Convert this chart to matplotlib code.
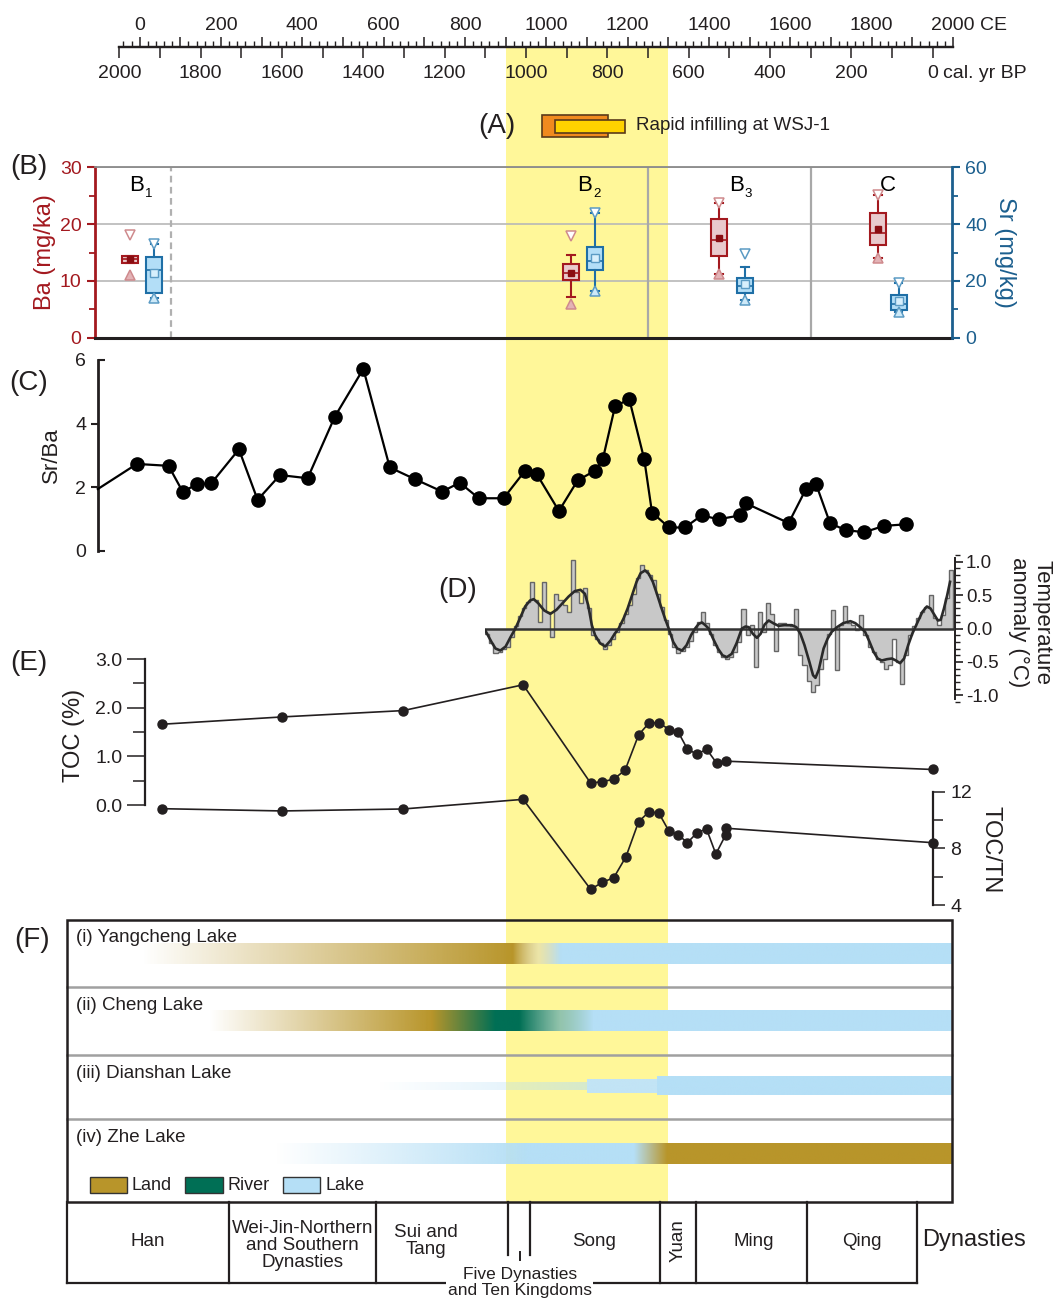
import numpy as np
import matplotlib
matplotlib.use('Agg')
import matplotlib.pyplot as plt
from matplotlib.patches import Rectangle
from matplotlib.ticker import MultipleLocator, FixedLocator, FormatStrFormatter
from matplotlib.colors import to_rgb

plt.rcParams['font.family'] = ['Liberation Sans', 'DejaVu Sans']
plt.rcParams['axes.unicode_minus'] = False

# ======================= DATA =======================
yellow_band = [900, 1300]                 # CE
infill_orange = [990, 1152]               # CE
infill_yellow = [1022, 1194]              # CE
ce_labels = [0, 200, 400, 600, 800, 1000, 1200, 1400, 1600, 1800, 2000]
bp_labels = [2000, 1800, 1600, 1400, 1200, 1000, 800, 600, 400, 200, 0]

# (B) box plots
zone_letters = ['B', 'B', 'B', 'C']
zone_subs = ['1', '2', '3', '']
zone_label_x = [-7, 1095, 1467, 1840]
zone_bounds = [76, 1251, 1651]
ba_pos = [-24, 1061, 1425, 1816]
ba_q1 = [13.2, 10.1, 14.3, 16.3]
ba_med = [13.8, 11.4, 17.2, 18.5]
ba_q3 = [14.4, 12.9, 20.9, 22.0]
ba_whislo = [13.2, 7.2, 11.2, 14.1]
ba_whishi = [14.4, 14.5, 23.8, 25.1]
ba_mean = [13.9, 11.45, 17.5, 19.2]
ba_min = [11.0, 5.85, 11.2, 14.1]
ba_max = [18.1, 17.9, 23.8, 25.1]
sr_pos = [36, 1120, 1489, 1867]
sr_q1 = [15.9, 23.8, 15.7, 9.6]
sr_med = [23.8, 27.0, 18.2, 11.8]
sr_q3 = [28.5, 31.9, 20.9, 15.2]
sr_whislo = [13.9, 16.5, 13.3, 8.9]
sr_whishi = [32.9, 43.9, 24.9, 19.4]
sr_mean = [22.7, 28.2, 19.0, 13.0]
sr_min = [13.9, 16.5, 13.3, 8.9]
sr_max = [32.9, 43.9, 29.3, 19.4]

# (C) Sr/Ba
srba_year = [-103, -7, 71, 106, 140, 176, 244, 290, 345, 413, 480, 550, 615, 677,
             744, 787, 834, 895, 948, 976, 1031, 1077, 1120, 1139, 1169, 1204,
             1241, 1260, 1302, 1341, 1382, 1424, 1476, 1491, 1596, 1639, 1663,
             1698, 1736, 1782, 1830, 1884]
srba = [1.94, 2.73, 2.67, 1.85, 2.09, 2.12, 3.19, 1.6, 2.38, 2.28, 4.22, 5.72, 2.62,
        2.25, 1.86, 2.14, 1.65, 1.65, 2.52, 2.42, 1.25, 2.21, 2.52, 2.88, 4.54,
        4.77, 2.87, 1.2, 0.73, 0.73, 1.11, 0.99, 1.11, 1.49, 0.87, 1.95, 2.11,
        0.86, 0.65, 0.58, 0.78, 0.83]

# (D) temperature anomaly (decadal, start year of decade)
temp_year = list(range(850, 2000, 10))
temp_anom = [-0.08, -0.22, -0.37, -0.35, -0.30, -0.27, -0.12, 0.03, 0.18, 0.30,
             0.40, 0.69, 0.42, 0.10, 0.69, 0.25, -0.12, 0.52, 0.42, 0.35,
             0.25, 1.03, 0.55, 0.38, 0.60, 0.30, -0.10, -0.15, -0.22, -0.30,
             -0.25, -0.15, -0.05, 0.08, 0.22, 0.35, 0.52, 0.75, 0.95, 0.88,
             0.80, 0.72, 0.52, 0.32, 0.12, -0.08, -0.28, -0.37, -0.33, -0.28,
             -0.18, -0.05, 0.10, 0.25, 0.08, -0.08, -0.25, -0.35, -0.42, -0.46,
             -0.42, -0.35, -0.20, 0.29, -0.10, 0.05, -0.58, 0.25, -0.05, 0.38,
             0.22, -0.33, 0.08, 0.08, 0.05, 0.03, 0.29, -0.40, -0.55, -0.78,
             -0.95, -0.85, -0.60, -0.45, -0.08, 0.28, -0.62, 0.05, 0.33, 0.08,
             0.05, -0.02, 0.20, -0.10, -0.28, -0.35, -0.45, -0.50, -0.60, -0.55,
             -0.15, -0.50, -0.83, -0.40, -0.10, 0.03, 0.15, 0.25, 0.32, 0.50,
             0.15, 0.05, 0.20, 0.45, 0.88]
smooth_year = [850, 865, 875, 887, 900, 912, 924, 935, 948, 960, 969, 980, 995, 1010,
               1025, 1040, 1055, 1070, 1084, 1095, 1103, 1112, 1120, 1132, 1145,
               1158, 1168, 1178, 1190, 1200, 1211, 1222, 1232, 1243, 1252, 1262,
               1272, 1282, 1292, 1301, 1312, 1322, 1334, 1345, 1356, 1366, 1375,
               1383, 1391, 1399, 1410, 1422, 1433, 1444, 1456, 1468, 1481, 1490,
               1498, 1508, 1518, 1527, 1537, 1547, 1558, 1571, 1585, 1604, 1615,
               1625, 1635, 1647, 1656, 1662, 1670, 1682, 1692, 1702, 1715, 1730,
               1748, 1760, 1772, 1784, 1795, 1805, 1815, 1825, 1838, 1850, 1860,
               1870, 1880, 1890, 1900, 1906, 1915, 1925, 1936, 1945, 1955, 1963,
               1970, 1978, 1986, 1993]
smooth_anom = [-0.03, -0.20, -0.30, -0.33, -0.27, -0.13, 0.00, 0.15, 0.33, 0.42,
               0.44, 0.38, 0.27, 0.22, 0.28, 0.38, 0.48, 0.56, 0.58, 0.52, 0.35,
               0.05, -0.10, -0.22, -0.27, -0.18, -0.08, 0.00, 0.15, 0.30, 0.50,
               0.70, 0.83, 0.87, 0.82, 0.70, 0.52, 0.33, 0.15, 0.00, -0.20, -0.30,
               -0.33, -0.25, -0.10, 0.00, 0.07, 0.09, 0.05, 0.00, -0.15, -0.30,
               -0.40, -0.43, -0.38, -0.22, 0.00, 0.03, 0.02, -0.08, -0.14, -0.08,
               0.06, 0.12, 0.08, 0.04, 0.05, 0.05, 0.02, -0.08, -0.25, -0.50, -0.70,
               -0.74, -0.62, -0.30, -0.15, -0.05, 0.02, 0.08, 0.11, 0.08, 0.02,
               -0.05, -0.20, -0.35, -0.45, -0.48, -0.46, -0.45, -0.48, -0.52, -0.45,
               -0.25, -0.08, 0.00, 0.12, 0.25, 0.33, 0.30, 0.20, 0.12, 0.13, 0.30,
               0.50, 0.70]

# (E) TOC and TOC/TN
toc_year = [56, 351, 648, 943, 1109, 1138, 1166, 1194, 1227, 1253, 1277, 1302,
            1325, 1347, 1371, 1394, 1419, 1443, 1950]
toc = [1.66, 1.81, 1.94, 2.47, 0.45, 0.48, 0.53, 0.72, 1.44, 1.69, 1.69, 1.55,
       1.49, 1.15, 1.04, 1.15, 0.86, 0.90, 0.73]
tn_year = [56, 351, 648, 943, 1109, 1138, 1166, 1196, 1227, 1253, 1277, 1301,
           1325, 1347, 1371, 1394, 1417, 1441, 1442, 1950]
toc_tn = [10.8, 10.64, 10.78, 11.46, 5.11, 5.6, 5.93, 7.41, 9.88, 10.59, 10.48,
          9.25, 8.94, 8.4, 9.11, 9.37, 7.6, 8.94, 9.42, 8.4]

# (F) palaeo-environment rows: (CE, state, opacity)
lake_rows = ['(i) Yangcheng Lake', '(ii) Cheng Lake', '(iii) Dianshan Lake', '(iv) Zhe Lake']
yangcheng_stops = [(5, 'land', 0.0), (916, 'land', 1.0), (980, 'pale', 0.5),
                   (1034, 'lake', 1.0), (1998, 'lake', 1.0)]
cheng_stops = [(171, 'land', 0.0), (718, 'land', 1.0), (875, 'river', 1.0),
               (934, 'river', 1.0), (1035, 'mixrl', 0.75), (1116, 'lake', 1.0),
               (1998, 'lake', 1.0)]
dianshan_thin = [(585, 'lake', 0.0), (1099, 'lake', 0.55)]
dianshan_mid = [(1099, 'lake2', 1.0), (1273, 'lake2', 1.0)]
dianshan_full = [(1273, 'lake', 1.0), (1998, 'lake', 1.0)]
zhe_stops = [(336, 'lake', 0.0), (950, 'lake', 1.0), (1216, 'lake', 1.0),
             (1298, 'land', 1.0), (1998, 'land', 1.0)]
legend_names = ['Land', 'River', 'Lake']

# Dynasties
dynasty_names = ['Han', 'Wei-Jin-Northern\nand Southern\nDynasties', 'Sui and\nTang',
                 'Five Dynasties\nand Ten Kingdoms', 'Song', 'Yuan', 'Ming', 'Qing']
dynasty_ends = [220, 581, 907, 960, 1279, 1368, 1640, 1911]
dynasty_label_x = [21, 400, 704, 935, 1117, 1323, 1511, 1775]

# ======================= STYLE / LAYOUT =======================
W, H = 1057, 1303
PX0, PXY = 139.7, 0.4066
TXT = '#231f20'
RED = '#a3191f'
RED_FILL = '#e9cacd'
BLUE = '#1c5f8e'
BLUE_EDGE = '#1f6fa6'
BLUE_FILL = '#b3def7'
YEL = '#fff799'
COL = {'land': '#b8952a', 'river': '#006f55', 'lake': '#b5dff6', 'lake2': '#c2e4f5',
       'pale': '#d9d3b8', 'mixrl': '#6fb3b3'}


def ce(px):
    return (px - PX0) / PXY


fig = plt.figure(figsize=(W / 100, H / 100), dpi=100)
fig.patch.set_facecolor('white')


def add_ax(x0, x1, y0, y1, z=2):
    ax = fig.add_axes([x0 / W, 1 - y1 / H, (x1 - x0) / W, (y1 - y0) / H])
    ax.set_xlim(ce(x0), ce(x1))
    ax.patch.set_alpha(0)
    ax.set_zorder(z)
    return ax


def lim_from(y0, y1, ya, va, yb, vb):
    s = (vb - va) / (yb - ya)
    return va + (y1 - ya) * s, va + (y0 - ya) * s


# background axes: x = CE years, y = pixels
bg = fig.add_axes([0, 0, 1, 1])
bg.set_zorder(0)
bg.axis('off')

bg.add_patch(Rectangle((yellow_band[0], 48), yellow_band[1] - yellow_band[0],
                       1202.3 - 48, color=YEL, lw=0, zorder=0))

# ---------------- time axis ----------------
ax_ce = add_ax(119.0, 953.3, 47, 60, z=3)
for s in ['left', 'right', 'bottom']:
    ax_ce.spines[s].set_visible(False)
ax_ce.spines['top'].set_linewidth(1.6)
ax_ce.spines['top'].set_color(TXT)
ax_ce.set_yticks([])
ax_ce.xaxis.set_ticks_position('top')
ax_ce.xaxis.set_major_locator(MultipleLocator(100))
ax_ce.xaxis.set_minor_locator(MultipleLocator(20))
ax_ce.tick_params(axis='x', which='major', direction='out', length=7, width=1.1,
                  color=TXT, labeltop=False, labelbottom=False)
ax_ce.tick_params(axis='x', which='minor', direction='out', length=4, width=1.0,
                  color=TXT)

ax_bp = add_ax(119.0, 953.3, 34, 47, z=3)
ax_bp.set_xlim(1950 - ce(119.0), 1950 - ce(953.3))
for s in ['left', 'right', 'top']:
    ax_bp.spines[s].set_visible(False)
ax_bp.spines['bottom'].set_linewidth(1.6)
ax_bp.spines['bottom'].set_color(TXT)
ax_bp.set_yticks([])
ax_bp.xaxis.set_major_locator(MultipleLocator(100))
ax_bp.tick_params(axis='x', which='major', direction='out', length=8, width=1.1,
                  color=TXT, labelbottom=False)

for v in ce_labels:
    bg.text(v, 25, str(v), ha='center', va='center', fontsize=14, color=TXT)
bg.text(ce(980), 25, 'CE', ha='left', va='center', fontsize=14, color=TXT)
for v in bp_labels:
    bg.text(1950 - v, 74, str(v), ha='center', va='center', fontsize=14, color=TXT)
bg.text(ce(943), 74, 'cal. yr BP', ha='left', va='center', fontsize=14, color=TXT)

# ---------------- (A) ----------------
bg.add_patch(Rectangle((infill_orange[0], 115), infill_orange[1] - infill_orange[0], 22,
                       fc='#f08a1e', ec='#5a3a1a', lw=1.2, zorder=3))
bg.add_patch(Rectangle((infill_yellow[0], 120), infill_yellow[1] - infill_yellow[0], 13,
                       fc='#ffd200', ec='#5a3a1a', lw=1.2, zorder=4))
bg.text(ce(636), 126, 'Rapid infilling at WSJ-1', ha='left', va='center',
        fontsize=13.5, color=TXT)

# panel letters
for lab, x, y in [('(A)', 497, 126), ('(B)', 29, 167), ('(C)', 29, 383),
                  ('(D)', 458, 590), ('(E)', 29, 663), ('(F)', 32, 940)]:
    bg.text(ce(x), y, lab, ha='center', va='center', fontsize=20, color=TXT)

# ---------------- (B) ----------------
ax_b = add_ax(94.7, 951.9, 167.3, 337.7, z=3)
ax_b.set_ylim(0, 30)
ax_sr = ax_b.twinx()
ax_sr.set_zorder(4)
ax_sr.patch.set_alpha(0)
ax_sr.set_ylim(0, 60)

ax_b.yaxis.set_major_locator(MultipleLocator(10))
ax_b.yaxis.set_minor_locator(MultipleLocator(5))
ax_b.yaxis.grid(True, which='major', color='#b8b8b8', lw=1.2)
ax_b.set_axisbelow(True)
ax_b.set_xticks([])
ax_sr.set_xticks([])
for i, xb in enumerate(zone_bounds):
    if i == 0:
        ax_b.axvline(xb, color='#b0b0b0', lw=1.6, ls=(0, (3, 2)), zorder=1)
    else:
        ax_b.axvline(xb, color='#a8a8a8', lw=1.6, zorder=1)

ba_stats = [dict(q1=a, med=b, q3=c, whislo=d, whishi=e, mean=f, fliers=[])
            for a, b, c, d, e, f in zip(ba_q1, ba_med, ba_q3, ba_whislo, ba_whishi, ba_mean)]
sr_stats = [dict(q1=a, med=b, q3=c, whislo=d, whishi=e, mean=f, fliers=[])
            for a, b, c, d, e, f in zip(sr_q1, sr_med, sr_q3, sr_whislo, sr_whishi, sr_mean)]
ax_b.bxp(ba_stats, positions=ba_pos, widths=40, patch_artist=True, showmeans=True,
         showfliers=False, manage_ticks=False,
         boxprops=dict(facecolor=RED_FILL, edgecolor=RED, linewidth=1.5),
         medianprops=dict(color=RED, linewidth=1.2),
         whiskerprops=dict(color=RED, linewidth=1.5),
         capprops=dict(color=RED, linewidth=1.5),
         meanprops=dict(marker='s', markerfacecolor='#8a0d12', markeredgecolor='#8a0d12',
                        markersize=5), capwidths=18)
ax_sr.bxp(sr_stats, positions=sr_pos, widths=40, patch_artist=True, showmeans=True,
          showfliers=False, manage_ticks=False,
          boxprops=dict(facecolor=BLUE_FILL, edgecolor=BLUE_EDGE, linewidth=1.5),
          medianprops=dict(color=BLUE_EDGE, linewidth=1.2),
          whiskerprops=dict(color=BLUE_EDGE, linewidth=1.5),
          capprops=dict(color=BLUE_EDGE, linewidth=1.5),
          meanprops=dict(marker='s', markerfacecolor='#d7effc', markeredgecolor='#5b9bc4',
                         markersize=6), capwidths=18)
ax_b.plot(ba_pos, ba_max, 'v', ms=7, mfc='white', mec='#cf8a8d', mew=1.1, ls='none', zorder=5)
ax_b.plot(ba_pos, ba_min, '^', ms=7, mfc='#e3b3b6', mec='#cf8a8d', mew=1.1, ls='none', zorder=5)
ax_sr.plot(sr_pos, sr_max, 'v', ms=7, mfc='white', mec='#5b9bc4', mew=1.1, ls='none', zorder=5)
ax_sr.plot(sr_pos, sr_min, '^', ms=7, mfc='#cde9f8', mec='#5b9bc4', mew=1.1, ls='none', zorder=5)

xt = ax_b.get_xaxis_transform()
for let, sub, x in zip(zone_letters, zone_subs, zone_label_x):
    ax_b.text(x, 0.895, let, transform=xt, ha='center', va='center', fontsize=16,
              color='black')
    if sub:
        ax_b.annotate(sub, xy=(x, 0.895), xycoords=xt, xytext=(8.5, -6.5),
                      textcoords='offset points', ha='center', va='center',
                      fontsize=9.5, color='black')

ax_b.spines['left'].set_color(RED)
ax_b.spines['left'].set_linewidth(2)
ax_b.spines['right'].set_visible(False)
ax_b.spines['top'].set_color('#8a8a8a')
ax_b.spines['top'].set_linewidth(1.3)
ax_b.spines['bottom'].set_color(TXT)
ax_b.spines['bottom'].set_linewidth(2.2)
for s in ['left', 'top', 'bottom']:
    ax_sr.spines[s].set_visible(False)
ax_sr.spines['right'].set_color(BLUE)
ax_sr.spines['right'].set_linewidth(2)
ax_b.tick_params(axis='y', which='major', colors=RED, length=6, width=1.5, labelsize=14)
ax_b.tick_params(axis='y', which='minor', colors=RED, length=4, width=1.3)
ax_sr.yaxis.set_major_locator(MultipleLocator(20))
ax_sr.yaxis.set_minor_locator(MultipleLocator(10))
ax_sr.tick_params(axis='y', which='major', colors=BLUE, length=6, width=1.5, labelsize=14)
ax_sr.tick_params(axis='y', which='minor', colors=BLUE, length=4, width=1.3)
ax_b.set_ylabel('Ba (mg/ka)', color=RED, fontsize=17, va='center')
ax_b.yaxis.set_label_coords(-0.058, 0.5)
ax_sr.set_ylabel('Sr (mg/kg)', color=BLUE, fontsize=17, rotation=-90, va='center')
ax_sr.yaxis.set_label_coords(1.062, 0.5)

# ---------------- (C) ----------------
ax_c = add_ax(98, 953, 360, 550.7, z=3)
ax_c.set_ylim(0, 6)
for s in ['top', 'right', 'bottom']:
    ax_c.spines[s].set_visible(False)
ax_c.spines['left'].set_linewidth(2)
ax_c.spines['left'].set_color(TXT)
ax_c.set_xticks([])
ax_c.yaxis.set_major_locator(FixedLocator([2, 4]))
ax_c.yaxis.set_minor_locator(FixedLocator([0, 6]))
ax_c.yaxis.set_major_formatter(FormatStrFormatter('%d'))
ax_c.yaxis.set_minor_formatter(FormatStrFormatter('%d'))
ax_c.tick_params(axis='y', which='major', direction='out', length=5, width=1.5,
                 labelsize=14, color=TXT, labelcolor=TXT)
ax_c.tick_params(axis='y', which='minor', direction='in', length=5, width=1.5,
                 labelsize=14, color=TXT, labelcolor=TXT, pad=8.5)
ax_c.plot(srba_year, srba, color='black', lw=1.6, zorder=3, clip_on=False)
ax_c.plot(srba_year[1:], srba[1:], 'o', ms=9.5, color='black', zorder=4, clip_on=False)
ax_c.set_ylabel('Sr/Ba', fontsize=16, color=TXT, va='center')
ax_c.yaxis.set_label_coords(-0.054, 0.5)

# ---------------- (D) ----------------
ax_d = add_ax(485.3, 955, 555, 702, z=3)
ax_d.set_ylim(*lim_from(555, 702, 628.5, 0.0, 561.8, 1.0))
temp_edges = temp_year + [temp_year[-1] + 10]
ax_d.stairs(temp_anom, temp_edges, baseline=0, fill=True, color='#c8c8c8', lw=0, zorder=2)
ax_d.stairs(temp_anom, temp_edges, baseline=0, fill=False, color='#666666', lw=1.0, zorder=2.5)
ax_d.axhline(0, color='#333333', lw=1.8, zorder=3)
ax_d.plot(smooth_year, smooth_anom, color='#2a2a2a', lw=1.9, zorder=4)
for s in ['top', 'left', 'bottom']:
    ax_d.spines[s].set_visible(False)
ax_d.spines['right'].set_bounds(-1.05, 1.05)
ax_d.spines['right'].set_linewidth(1.4)
ax_d.spines['right'].set_color(TXT)
ax_d.set_xticks([])
ax_d.yaxis.tick_right()
ax_d.yaxis.set_major_locator(MultipleLocator(0.5))
ax_d.yaxis.set_minor_locator(MultipleLocator(0.1))
ax_d.yaxis.set_major_formatter(FormatStrFormatter('%.1f'))
ax_d.tick_params(axis='y', which='major', direction='out', length=6, width=1.2,
                 labelsize=13.5, color=TXT, labelcolor=TXT, pad=2)
ax_d.tick_params(axis='y', which='minor', direction='out', length=3.5, width=1.0, color=TXT)
ax_d.yaxis.set_label_position('right')
ax_d.set_ylabel('Temperature\nanomaly (\u00b0C)', fontsize=16, color=TXT,
                rotation=-90, va='center', linespacing=1.1)
ax_d.yaxis.set_label_coords(1.16, 0.544)

# ---------------- (E) ----------------
ax_toc = add_ax(145.4, 953, 655, 812, z=3)
ax_toc.set_ylim(*lim_from(655, 812, 805, 0.0, 659, 3.0))
for s in ['top', 'right', 'bottom']:
    ax_toc.spines[s].set_visible(False)
ax_toc.spines['left'].set_bounds(0, 3)
ax_toc.spines['left'].set_linewidth(1.6)
ax_toc.spines['left'].set_color(TXT)
ax_toc.set_xticks([])
ax_toc.yaxis.set_major_locator(FixedLocator([0, 1, 2, 3]))
ax_toc.yaxis.set_minor_locator(FixedLocator([0.5, 1.5, 2.5]))
ax_toc.yaxis.set_major_formatter(FormatStrFormatter('%.1f'))
ax_toc.tick_params(axis='y', which='major', direction='out', length=13, width=1.1,
                   labelsize=14, color=TXT, labelcolor=TXT)
ax_toc.tick_params(axis='y', which='minor', direction='out', length=8.5, width=1.1, color=TXT)
ax_toc.plot(toc_year, toc, '-o', color=TXT, lw=1.2, ms=6.5, clip_on=False, zorder=4)
ax_toc.set_ylabel('TOC (%)', fontsize=17, color=TXT, va='center')
ax_toc.yaxis.set_label_coords(-0.088, 0.49)

ax_tn = add_ax(145.4, 933.4, 785, 912, z=3)
ax_tn.set_ylim(*lim_from(785, 912, 905, 4.0, 791.7, 12.0))
for s in ['top', 'left', 'bottom']:
    ax_tn.spines[s].set_visible(False)
ax_tn.spines['right'].set_bounds(4, 12)
ax_tn.spines['right'].set_linewidth(1.6)
ax_tn.spines['right'].set_color(TXT)
ax_tn.set_xticks([])
ax_tn.yaxis.tick_right()
ax_tn.yaxis.set_major_locator(FixedLocator([4, 8, 12]))
ax_tn.yaxis.set_minor_locator(FixedLocator([6, 10]))
ax_tn.yaxis.set_major_formatter(FormatStrFormatter('%d'))
ax_tn.tick_params(axis='y', which='major', direction='out', length=8.5, width=1.1,
                  labelsize=14, color=TXT, labelcolor=TXT)
ax_tn.tick_params(axis='y', which='minor', direction='out', length=7.5, width=1.1, color=TXT)
ax_tn.plot(tn_year, toc_tn, '-o', color=TXT, lw=1.2, ms=6.5, clip_on=False, zorder=4)
ax_tn.yaxis.set_label_position('right')
ax_tn.set_ylabel('TOC/TN', fontsize=17, color=TXT, rotation=-90, va='center')
ax_tn.yaxis.set_label_coords(1.072, 0.488)

# ---------------- (F) ----------------
FX0, FX1 = ce(67.4), ce(952.1)


def grad_bar(stops, y0, y1):
    sx = [s[0] for s in stops]
    cols = np.array([list(to_rgb(COL[s[1]])) + [s[2]] for s in stops])
    xs = np.linspace(sx[0], sx[-1], 900)
    img = np.zeros((1, len(xs), 4))
    for k in range(4):
        img[0, :, k] = np.interp(xs, sx, cols[:, k])
    bg.imshow(img, extent=(xs[0], xs[-1], y1, y0), aspect='auto',
              interpolation='bilinear', zorder=3)


grad_bar(yangcheng_stops, 943.3, 964.3)
grad_bar(cheng_stops, 1010.0, 1030.7)
grad_bar(dianshan_thin, 1082.7, 1090.0)
grad_bar(dianshan_mid, 1079.0, 1092.7)
grad_bar(dianshan_full, 1076.7, 1095.3)
grad_bar(zhe_stops, 1143.3, 1164.0)

bg.add_patch(Rectangle((FX0, 920), FX1 - FX0, 1202.3 - 920, fill=False, ec=TXT,
                       lw=1.8, zorder=6))
for y in [987.3, 1055, 1119]:
    bg.plot([FX0, FX1], [y, y], color='#a0a0a0', lw=1.8, zorder=5)
for nm, y in zip(lake_rows, [938, 1005, 1074, 1137]):
    bg.text(ce(75.5), y, nm, ha='left', va='center', fontsize=13.5, color=TXT, zorder=7)

for nm, key, xp in zip(legend_names, ['land', 'river', 'lake'], [89.7, 185.4, 283.2]):
    bg.add_patch(Rectangle((ce(xp), 1176.7), 37.1 / PXY, 16.6, fc=COL[key], ec='#333333',
                           lw=1.0, zorder=6))
    bg.text(ce(xp + 42), 1185.5, nm, ha='left', va='center', fontsize=13, color=TXT, zorder=7)

# dynasty table
TY0, TY1 = 1202.3, 1282.7
bg.plot([FX0, FX0], [TY0, TY1], color=TXT, lw=1.6, zorder=6)
bg.plot([FX0, dynasty_ends[-1]], [TY1, TY1], color=TXT, lw=1.6, zorder=6)
for i, x in enumerate(dynasty_ends):
    yb = 1255 if i in (2, 3) else TY1
    bg.plot([x, x], [TY0, yb], color=TXT, lw=1.6, zorder=6)
bg.plot([dynasty_label_x[3], dynasty_label_x[3]], [1251.7, 1260], color=TXT, lw=1.4, zorder=6)
dyn_y = [1241.5, 1245.5, 1241, 1282.5, 1241, 1241, 1241, 1241]
for i, (nm, x, y) in enumerate(zip(dynasty_names, dynasty_label_x, dyn_y)):
    if i == 3:
        bg.text(x, y, nm, ha='center', va='center', fontsize=12.5, color=TXT, zorder=8,
                linespacing=1.05, bbox=dict(fc='white', ec='none', pad=1.0))
    elif i == 5:
        bg.text(x, y, nm, ha='center', va='center', fontsize=13.5, color=TXT,
                rotation=90, zorder=8)
    else:
        bg.text(x, y, nm, ha='center', va='center', fontsize=13.5, color=TXT,
                linespacing=1.0, zorder=8)
bg.text(ce(922), 1240, 'Dynasties', ha='left', va='center', fontsize=17, color=TXT)

bg.set_xlim(ce(0), ce(W))
bg.set_ylim(H, 0)

fig.savefig('out.png', dpi=100, facecolor='white')
